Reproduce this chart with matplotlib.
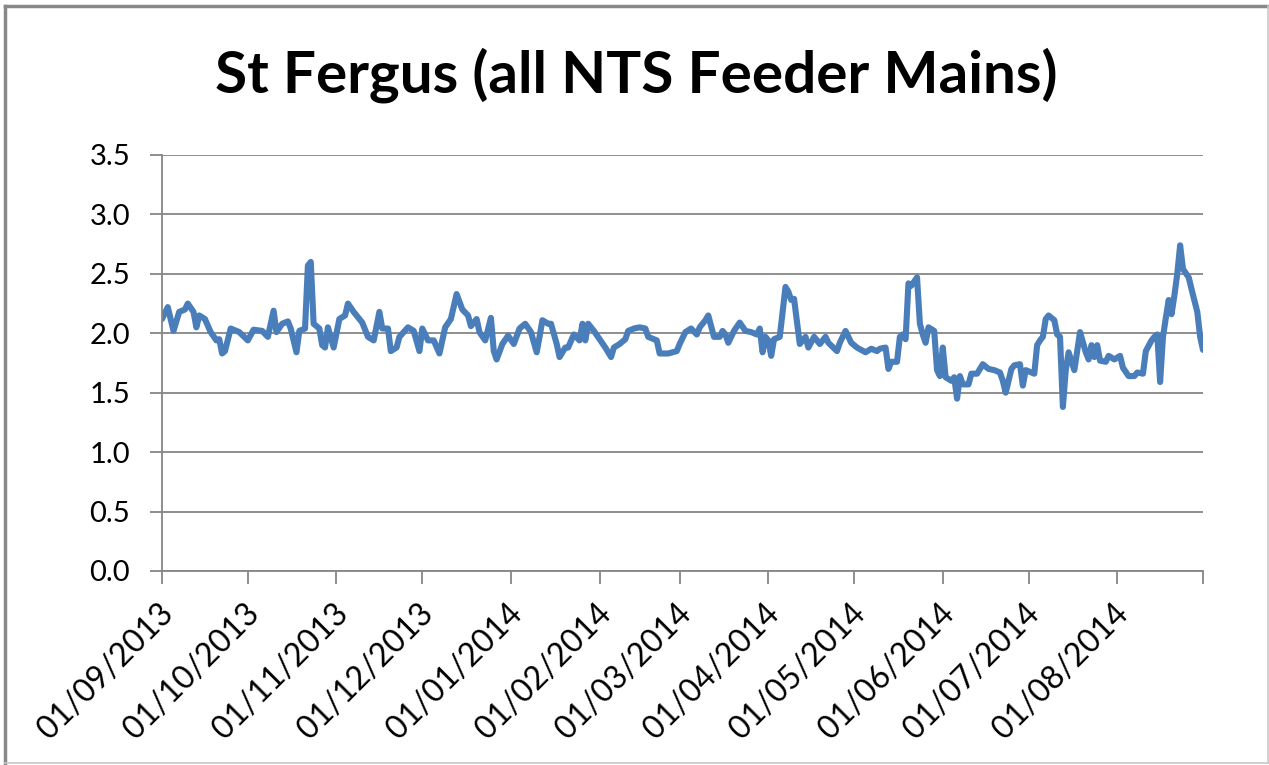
import datetime as dt
import matplotlib
matplotlib.use("Agg")
import matplotlib.pyplot as plt
import matplotlib.transforms as mtransforms
from matplotlib.lines import Line2D

#--------------------------------------------------------------------------------------
# data (days since 01/09/2013, value)
start = dt.date(2013, 9, 1)
day = [0, 2, 4, 6, 8, 9, 11, 12, 13, 15, 17, 19, 20, 21, 22, 24, 27, 30, 32, 35,
       37, 39, 40, 42, 44, 45, 47, 48, 50, 51, 52, 53, 55, 56, 57, 58, 60,
       62, 64, 65, 67, 69, 70, 72, 74, 76, 77, 79, 80, 82, 83, 86, 88, 90, 91,
       93, 95, 97, 99, 101, 103, 105, 107, 108, 110, 111, 113, 115, 116, 117, 119, 121,
       123, 125, 127, 129, 131, 132, 133, 135, 136, 138, 139, 141, 142, 144, 146, 147,
       148, 149, 151, 153, 155, 157, 158, 160, 162, 163, 165, 167, 169, 170, 173, 174,
       177, 180, 181, 183, 185, 187, 188, 190, 191, 193, 195, 196, 197, 198, 200, 202,
       204, 206, 208, 209, 210, 211, 212, 213, 214, 216, 218, 219, 220, 221, 223, 225,
       226, 228, 230, 232, 233, 236, 237, 239, 241, 243, 246, 248, 250, 251, 253, 254,
       255, 257, 258, 259, 260, 261, 262, 264, 265, 266, 267, 268, 270, 271, 272, 273,
       274, 276, 277, 278, 279, 280, 282, 283, 285, 287, 289, 291, 293, 294, 295, 297,
       298, 300, 301, 302, 304, 305, 306, 307, 308, 309, 310, 312, 313, 314, 315, 316,
       317, 319, 320, 321, 323, 324, 325, 326, 327, 328, 330, 331, 333, 335, 336, 338,
       340, 341, 343, 344, 346, 347, 348, 349, 350, 351, 352, 353, 354, 355, 356, 357,
       359, 360, 362, 363, 364]
value = [2.12, 2.22, 2.02, 2.18, 2.20, 2.25, 2.18, 2.05, 2.15, 2.12, 2.01, 1.94, 1.95, 1.83, 1.85, 2.04, 2.01, 1.94, 2.03, 2.02,
         1.97, 2.19, 2.01, 2.08, 2.10, 2.04, 1.84, 2.02, 2.04, 2.57, 2.60, 2.08, 2.04, 1.90, 1.88, 2.05, 1.88,
         2.12, 2.15, 2.25, 2.18, 2.12, 2.09, 1.97, 1.94, 2.18, 2.04, 2.04, 1.85, 1.88, 1.97, 2.05, 2.02, 1.85, 2.04,
         1.94, 1.94, 1.83, 2.05, 2.12, 2.33, 2.20, 2.15, 2.06, 2.12, 2.01, 1.94, 2.13, 1.85, 1.78, 1.91, 1.98,
         1.91, 2.04, 2.08, 2.01, 1.84, 1.97, 2.11, 2.08, 2.08, 1.91, 1.80, 1.88, 1.88, 1.99, 1.94, 2.08,
         1.94, 2.08, 2.02, 1.95, 1.88, 1.80, 1.88, 1.91, 1.95, 2.02, 2.04, 2.05, 2.04, 1.97, 1.94, 1.83,
         1.83, 1.85, 1.91, 2.01, 2.04, 1.99, 2.05, 2.11, 2.15, 1.97, 1.97, 2.02, 1.99, 1.92, 2.02, 2.09,
         2.02, 2.01, 1.99, 2.04, 1.84, 1.97, 1.94, 1.81, 1.95, 1.97, 2.39, 2.35, 2.28, 2.29, 1.91, 1.97,
         1.88, 1.97, 1.91, 1.97, 1.92, 1.85, 1.92, 2.02, 1.92, 1.88, 1.84, 1.87, 1.85, 1.87, 1.88, 1.70,
         1.76, 1.76, 1.97, 1.99, 1.95, 2.42, 2.40, 2.47, 2.08, 1.99, 1.92, 2.05, 2.02, 1.69, 1.64, 1.88,
         1.63, 1.60, 1.63, 1.45, 1.64, 1.57, 1.57, 1.66, 1.66, 1.74, 1.70, 1.69, 1.67, 1.60, 1.50, 1.70,
         1.73, 1.74, 1.56, 1.69, 1.67, 1.66, 1.90, 1.94, 1.97, 2.12, 2.15, 2.11, 1.99, 1.97, 1.38, 1.69,
         1.84, 1.69, 1.85, 2.01, 1.84, 1.78, 1.90, 1.80, 1.90, 1.77, 1.76, 1.81, 1.78, 1.81, 1.71, 1.64,
         1.64, 1.67, 1.66, 1.85, 1.94, 1.97, 1.99, 1.59, 1.97, 2.13, 2.28, 2.16, 2.32, 2.50, 2.74, 2.54,
         2.47, 2.37, 2.18, 1.97, 1.86]
yticks = [0.0, 0.5, 1.0, 1.5, 2.0, 2.5, 3.0, 3.5]
title = "St Fergus (all NTS Feeder Mains)"

#--------------------------------------------------------------------------------------
plt.rcParams['font.family'] = ['Lato', 'DejaVu Sans']
grey = "#868686"

dates = [start + dt.timedelta(days=d) for d in day]

fig = plt.figure(figsize=(12.69, 7.65), dpi=100)
ax = fig.add_axes([0.1277, 0.2536, 0.8203, 0.5438])

ax.plot(dates, value, color="#4A7EBB", linewidth=4.4, solid_joinstyle="round",
        solid_capstyle="round")

ax.set_ylim(0, 3.5)
ax.set_yticks(yticks)
ax.set_yticklabels([f"{t:.1f}" for t in yticks])
ax.set_xlim(start, dt.date(2014, 8, 31))

months = [dt.date(2013 + (8 + i) // 12, (8 + i) % 12 + 1, 1) for i in range(12)]
ax.set_xticks(months + [dt.date(2014, 8, 31)])
ax.set_xticklabels([m.strftime("%d/%m/%Y") for m in months] + [""],
                   rotation=45, ha="right", rotation_mode="anchor")

ax.grid(axis="y", color=grey, linewidth=1.3)
ax.set_axisbelow(True)
for s in ["top", "right"]:
    ax.spines[s].set_visible(False)
for s in ["left", "bottom"]:
    ax.spines[s].set_color(grey)
    ax.spines[s].set_linewidth(1.3)
ax.tick_params(axis="both", colors=grey, width=1.3, length=9, labelsize=21,
               labelcolor="black")
ax.tick_params(axis="x", pad=6, labelsize=23)
ax.tick_params(axis="y", pad=14)

# nudge the rotated date labels a little left and down
shift = mtransforms.ScaledTranslation(-4 / 100, -6 / 100, fig.dpi_scale_trans)
for lbl in ax.get_xticklabels():
    lbl.set_transform(lbl.get_transform() + shift)

fig.text(0.501, 0.902, title, ha="center", va="center", fontsize=42, fontweight="bold")

# chart frame
fig.add_artist(Line2D([0.004, 0.004], [0.003, 0.992], color="#888888", linewidth=2.5,
                      transform=fig.transFigure))
fig.add_artist(Line2D([0.004, 0.999], [0.992, 0.992], color="#888888", linewidth=2.5,
                      transform=fig.transFigure))
fig.add_artist(Line2D([0.999, 0.999], [0.003, 0.992], color="#c8c8c8", linewidth=1.2,
                      transform=fig.transFigure))
fig.add_artist(Line2D([0.004, 0.999], [0.003, 0.003], color="#c8c8c8", linewidth=1.2,
                      transform=fig.transFigure))

fig.savefig("out.png", dpi=100)
